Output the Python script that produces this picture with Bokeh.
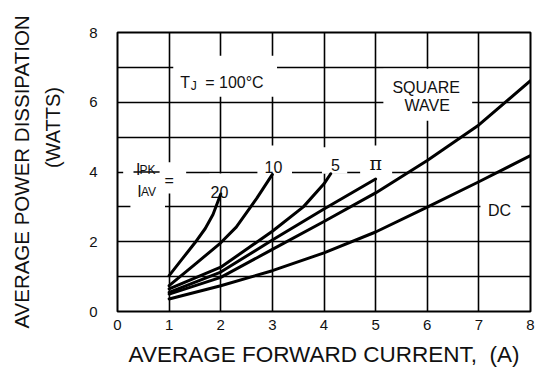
from bokeh.plotting import figure
from bokeh.models import FixedTicker, LinearAxis, Range1d
from bokeh.core.properties import value
from bokeh.embed import file_html
from bokeh.resources import INLINE

# ---- data ----
x_ticks = [0, 1, 2, 3, 4, 5, 6, 7, 8]
y_ticks = [0, 2, 4, 6, 8]
grid_steps = [0, 1, 2, 3, 4, 5, 6, 7, 8]

ratio20_x = [1.0, 1.25, 1.5, 1.7, 1.85, 2.0]
ratio20_y = [1.03, 1.5, 1.97, 2.38, 2.78, 3.37]

ratio10_x = [1.0, 1.5, 2.0, 2.3, 2.7, 3.0]
ratio10_y = [0.74, 1.35, 1.97, 2.42, 3.25, 3.93]

ratio5_x = [1.0, 2.0, 3.0, 3.6, 4.0, 4.13]
ratio5_y = [0.65, 1.27, 2.3, 3.0, 3.66, 3.95]

ratiopi_x = [1.0, 2.0, 3.0, 4.0, 5.0]
ratiopi_y = [0.55, 1.13, 2.05, 2.94, 3.80]

square_x = [1, 2, 3, 4, 5, 6, 7, 8]
square_y = [0.5, 0.98, 1.78, 2.58, 3.4, 4.33, 5.35, 6.62]

dc_x = [1, 2, 3, 4, 5, 6, 7, 8]
dc_y = [0.36, 0.74, 1.17, 1.68, 2.28, 2.99, 3.72, 4.47]

FONT = value("Liberation Sans")

p = figure(width=537, height=370, x_range=Range1d(0, 8), y_range=Range1d(0, 8),
           output_backend="svg", toolbar_location=None,
           min_border_left=117, min_border_right=7, min_border_top=32, min_border_bottom=59)

p.background_fill_color = "white"
p.border_fill_color = "white"
p.outline_line_color = "black"
p.outline_line_width = 2

# grid every unit
p.xgrid.ticker = FixedTicker(ticks=grid_steps)
p.ygrid.ticker = FixedTicker(ticks=grid_steps)
for g in (p.xgrid, p.ygrid):
    g.grid_line_color = "black"
    g.grid_line_width = 1.6
    g.grid_line_alpha = 1.0

# axes
p.xaxis.ticker = FixedTicker(ticks=x_ticks)
p.yaxis.ticker = FixedTicker(ticks=y_ticks)
for ax in (p.xaxis, p.yaxis):
    ax.axis_line_color = None
    ax.major_tick_line_color = None
    ax.minor_tick_line_color = None
    ax.major_label_text_font = "Liberation Sans"
    ax.major_label_text_font_size = "15px"
    ax.major_label_text_color = "#111111"
    ax.axis_label_text_font = "Liberation Sans"
    ax.axis_label_text_font_style = "normal"
    ax.axis_label_text_color = "#111111"

p.xaxis.major_label_standoff = 2
p.xaxis.axis_label = "AVERAGE FORWARD CURRENT,\u00a0 (A)"
p.xaxis.axis_label_text_font_size = "22.5px"
p.xaxis.axis_label_standoff = 9

p.yaxis.major_label_standoff = 14
p.yaxis.axis_label = "\u00a0" * 16 + "(WATTS)"
p.yaxis.axis_label_text_font_size = "20px"
p.yaxis.axis_label_standoff = 22

outer = LinearAxis(ticker=FixedTicker(ticks=[]), axis_label="AVERAGE POWER DISSIPATION",
                   axis_line_color=None, major_tick_line_color=None, minor_tick_line_color=None,
                   axis_label_text_font="Liberation Sans", axis_label_text_font_size="20.5px",
                   axis_label_text_font_style="normal", axis_label_text_color="#111111",
                   axis_label_standoff=7)
p.add_layout(outer, "left")

# white boxes behind the labels (break the grid lines)
mask_left = [1.08, 5.15, 7.03, 0.11, 0.25, 1.78, 2.71, 3.96, 4.70]
mask_right = [3.09, 6.87, 7.82, 1.33, 0.92, 2.18, 3.38, 4.45, 5.32]
mask_bottom = [6.16, 5.47, 2.75, 3.38, 2.9, 3.37, 3.93, 3.95, 3.80]
mask_top = [7.33, 6.96, 3.3, 4.28, 3.38, 3.96, 4.76, 4.71, 4.76]
p.quad(left=mask_left, right=mask_right, bottom=mask_bottom, top=mask_top,
       fill_color="white", line_color=None)

# fraction bar of I_PK / I_AV
p.segment(x0=[0.31], y0=[4.0], x1=[0.815], y1=[4.0], line_color="black", line_width=1.6)

# curves
for xs, ys in ((ratio20_x, ratio20_y), (ratio10_x, ratio10_y), (ratio5_x, ratio5_y),
               (ratiopi_x, ratiopi_y), (square_x, square_y), (dc_x, dc_y)):
    p.line(xs, ys, line_color="black", line_width=3, line_join="round", line_cap="round")

def txt(x, y, s, size="16px", align="left", xo=0, yo=0, font=FONT):
    p.text(x=[x], y=[y], text=[s], text_font=font, text_font_size=size,
           text_align=align, text_baseline="alphabetic", text_color="#111111",
           x_offset=xo, y_offset=yo)

# T_J = 100°C
txt(1.215, 6.57, "T")
txt(1.215, 6.57, "J", size="12px", xo=10.5, yo=3.5)
txt(1.215, 6.57, "= 100°C", xo=25)

# SQUARE WAVE
txt(5.98, 6.43, "SQUARE", align="center")
txt(6.0, 5.90, "WAVE", align="center")

# DC
txt(7.40, 2.89, "DC", align="center")

# ratio labels
txt(1.975, 3.42, "20", align="center")
txt(3.02, 4.15, "10", align="center")
txt(4.22, 4.21, "5", align="center")
txt(5.0, 4.26, "\u03c0", size="19px", align="center", font=value("DejaVu Serif"))

# I_PK / I_AV =
txt(0.31, 4.0, "I", xo=2.5, yo=-3)
txt(0.31, 4.0, "PK", size="12px", xo=6, yo=-2.5)
txt(0.31, 4.0, "I", xo=3.8, yo=19)
txt(0.31, 4.0, "AV", size="12px", xo=7.4, yo=20)
txt(0.31, 4.0, "=", xo=31, yo=8)

open("out.html", "w").write(file_html(p, INLINE))
